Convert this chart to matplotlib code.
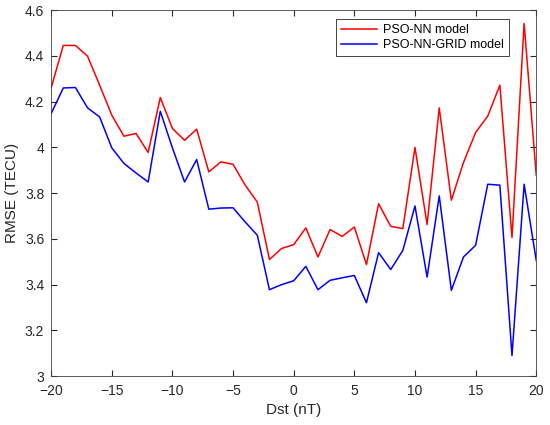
import numpy as np
import matplotlib
matplotlib.use("Agg")
import matplotlib.pyplot as plt

plt.rcParams['font.family'] = ['Liberation Sans', 'DejaVu Sans']

# Dst values (nT)
dst = np.arange(-20, 21)

# RMSE values (TECU)
rmse_pso_nn = [4.26, 4.446, 4.446, 4.399, 4.272, 4.141, 4.049, 4.061, 3.978, 4.218,
               4.083, 4.031, 4.08, 3.893, 3.937, 3.926, 3.835, 3.761, 3.51, 3.558,
               3.575, 3.648, 3.521, 3.641, 3.611, 3.652, 3.488, 3.754, 3.655, 3.645,
               4.0, 3.663, 4.173, 3.769, 3.934, 4.065, 4.137, 4.272, 3.606, 4.542,
               3.878]
rmse_pso_nn_grid = [4.148, 4.26, 4.262, 4.173, 4.133, 3.998, 3.93, 3.888, 3.849, 4.158,
                    3.998, 3.849, 3.947, 3.73, 3.735, 3.736, 3.674, 3.616, 3.378, 3.40,
                    3.417, 3.48, 3.378, 3.419, 3.43, 3.44, 3.321, 3.54, 3.466, 3.55,
                    3.744, 3.433, 3.788, 3.375, 3.521, 3.572, 3.839, 3.835, 3.09, 3.839,
                    3.506]

fig = plt.figure(figsize=(5.5, 4.25), dpi=100)
ax = fig.add_axes([0.093, 0.115, 0.882, 0.861])

ax.plot(dst, rmse_pso_nn, color='#ff0000', lw=1.1, label='PSO-NN model')
ax.plot(dst, rmse_pso_nn_grid, color='#0000ff', lw=1.1, label='PSO-NN-GRID model')

ax.set_xlim(-20, 20)
ax.set_ylim(3, 4.6)
ax.set_xticks(np.arange(-20, 21, 5))
ax.set_yticks(np.arange(3, 4.61, 0.2))
ax.set_yticklabels(['3', '3.2', '3.4', '3.6', '3.8', '4', '4.2', '4.4', '4.6'])
ax.tick_params(direction='in', top=True, right=True, labelsize=10, colors='#262626', length=4)
ax.tick_params(axis='y', pad=5)
ax.tick_params(axis='x', pad=6)
for s in ax.spines.values():
    s.set_color('#404040')
    s.set_linewidth(0.6)

ax.set_xlabel('Dst (nT)', fontsize=11, color='#262626', labelpad=3)
ax.set_ylabel('RMSE (TECU)', fontsize=11, color='#262626')

leg = ax.legend(loc='upper right', bbox_to_anchor=(0.944, 0.975), fontsize=9,
                fancybox=False, framealpha=1, edgecolor='#262626', borderaxespad=0,
                handlelength=2.9, borderpad=0.4, labelspacing=0.25, handletextpad=0.5)
leg.get_frame().set_linewidth(0.6)

fig.savefig('out.png', dpi=100)
